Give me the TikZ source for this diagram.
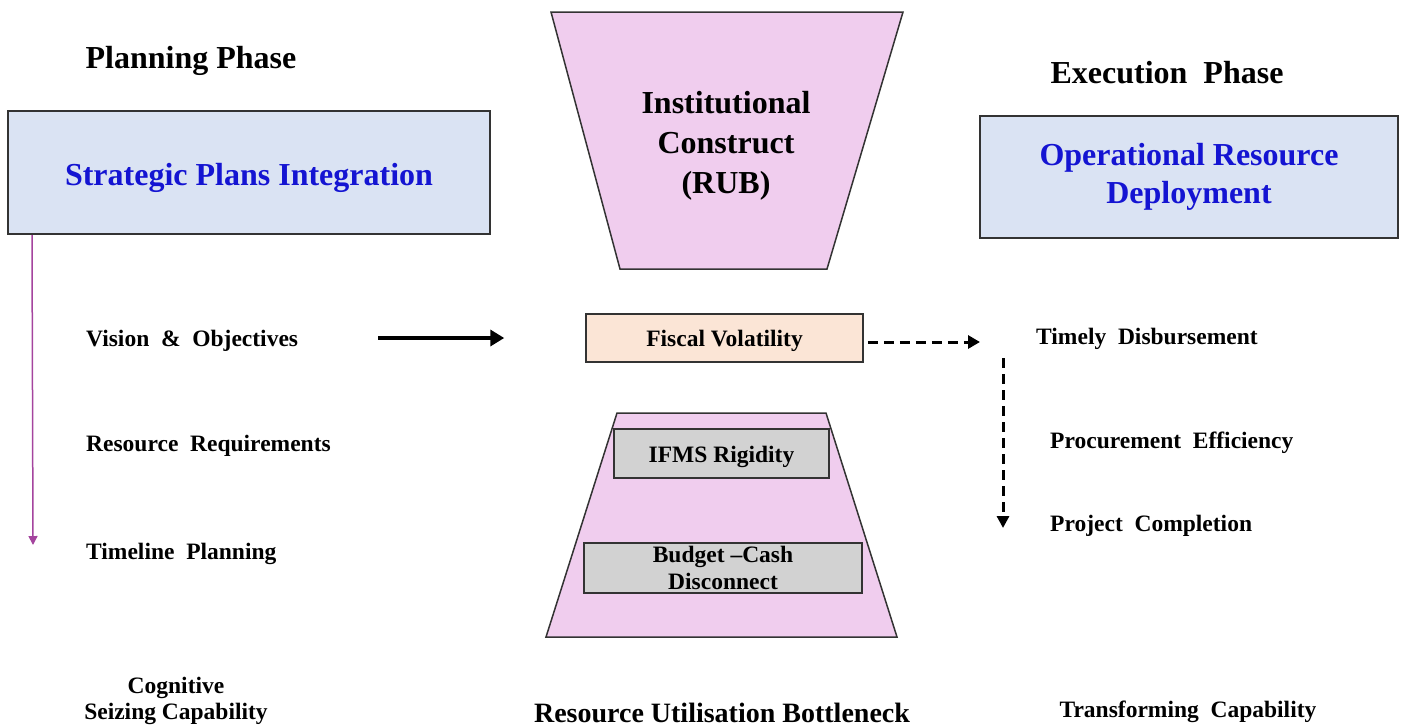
\documentclass[tikz,border=0pt]{standalone}
\usepackage{fontspec}
\setmainfont{Liberation Serif}
\usetikzlibrary{arrows.meta}

\definecolor{boxblue}{HTML}{DAE3F3}
\definecolor{titleblue}{HTML}{1414D2}
\definecolor{funnelpink}{HTML}{F0CDEE}
\definecolor{peach}{HTML}{FBE5D6}
\definecolor{greybox}{HTML}{D2D2D2}
\definecolor{flowpurple}{HTML}{A4449E}

\newcommand{\lowertext}[2]{\raisebox{-#1}[\height][\depth]{#2}}

\tikzset{
  bigtext/.style={font=\fontsize{32}{38}\selectfont\bfseries},
  smalltext/.style={font=\fontsize{23.5}{27}\selectfont\bfseries},
  phasebox/.style={draw=black!80, line width=2pt, fill=boxblue, text=titleblue,
    align=center, inner sep=0pt, bigtext},
  barrier/.style={draw=black!80, line width=1.5pt, inner sep=0pt, align=center, smalltext},
  item/.style={anchor=west, inner sep=0pt, smalltext},
  funnel/.style={draw=black!80, line width=1.5pt, fill=funnelpink}
}

\begin{document}
\begin{tikzpicture}[x=1pt, y=-1pt]
\useasboundingbox (0,0) rectangle (1402,726);

% funnel halves
\coordinate (TL) at (551,12);
\coordinate (TR) at (903,12);
\coordinate (TBR) at (827,269);
\coordinate (TBL) at (620,269);
\coordinate (BTL) at (617,413);
\coordinate (BTR) at (826,413);
\coordinate (BBR) at (897,637);
\coordinate (BBL) at (546,637);
\draw [funnel] (TL) -- (TR) -- (TBR) -- (TBL) -- cycle;
\draw [funnel] (BTL) -- (BTR) -- (BBR) -- (BBL) -- cycle;

% headings
\node [bigtext] (planning) at (191,61) {Planning Phase};
\node [bigtext] (execution) at (1167,73) {Execution\ \ Phase};
\node [phasebox, minimum width=482, minimum height=123] (strategic) at (249,172.5)
  {\lowertext{5pt}{Strategic Plans Integration}};
\node [phasebox, minimum width=418, minimum height=122] (operational) at (1189,177)
  {Operational Resource\\Deployment};
\node [bigtext, align=center, font=\fontsize{32}{40}\selectfont\bfseries] (construct) at (726,146)
  {Institutional\\Construct\\(RUB)};

% bottleneck
\node [barrier, fill=peach, minimum width=277, minimum height=48] (fiscal) at (724.5,338)
  {\lowertext{3pt}{Fiscal Volatility}};
\node [barrier, fill=greybox, minimum width=215, minimum height=49] (ifms) at (721.5,453.5)
  {\lowertext{3pt}{IFMS Rigidity}};
\node [barrier, fill=greybox, minimum width=278, minimum height=50] (budget) at (723,568)
  {Budget --Cash\\Disconnect};

% planning items
\node [item] (vision) at (86,341) {Vision \ \& \ Objectives};
\node [item] (resource) at (86,446) {Resource \ Requirements};
\node [item] (timeline) at (86,554) {Timeline \ Planning};

% execution items
\node [item] (timely) at (1036,339) {Timely \ Disbursement};
\node [item] (procure) at (1050,443) {Procurement \ Efficiency};
\node [item] (project) at (1050,526) {Project \ Completion};

% capabilities
\node [smalltext, align=center, font=\fontsize{23.5}{26}\selectfont\bfseries] (seizing) at (176,701)
  {Cognitive\\Seizing Capability};
\node [smalltext, font=\fontsize{28}{30}\selectfont\bfseries] (bottleneck) at (722,713)
  {Resource Utilisation Bottleneck};
\node [smalltext] (transforming) at (1188,712) {Transforming \ Capability};

% flows
\coordinate (purplestart) at ([xshift=25]strategic.south west);
\coordinate (purpleend) at (33,545);
\draw [flowpurple, line width=1.5pt, -{Triangle[length=9pt, width=9pt]}] (purplestart) -- (purpleend);
\draw [line width=4pt, -{Triangle[length=14pt, width=16pt]}]
  ([xshift=80, yshift=3]vision.east) -- ([xshift=-81]fiscal.west);
\coordinate (dashend) at (980,342);
\draw [line width=3pt, dash pattern=on 10pt off 6pt, -{Triangle[length=12pt, width=13pt]}]
  ([xshift=4, yshift=-4]fiscal.east) -- (dashend);
\coordinate (downstart) at (1003,358);
\coordinate (downend) at (1003,528);
\draw [line width=3pt, dash pattern=on 10pt off 6pt, -{Triangle[length=12pt, width=12pt]}]
  (downstart) -- (downend);

\end{tikzpicture}
\end{document}
